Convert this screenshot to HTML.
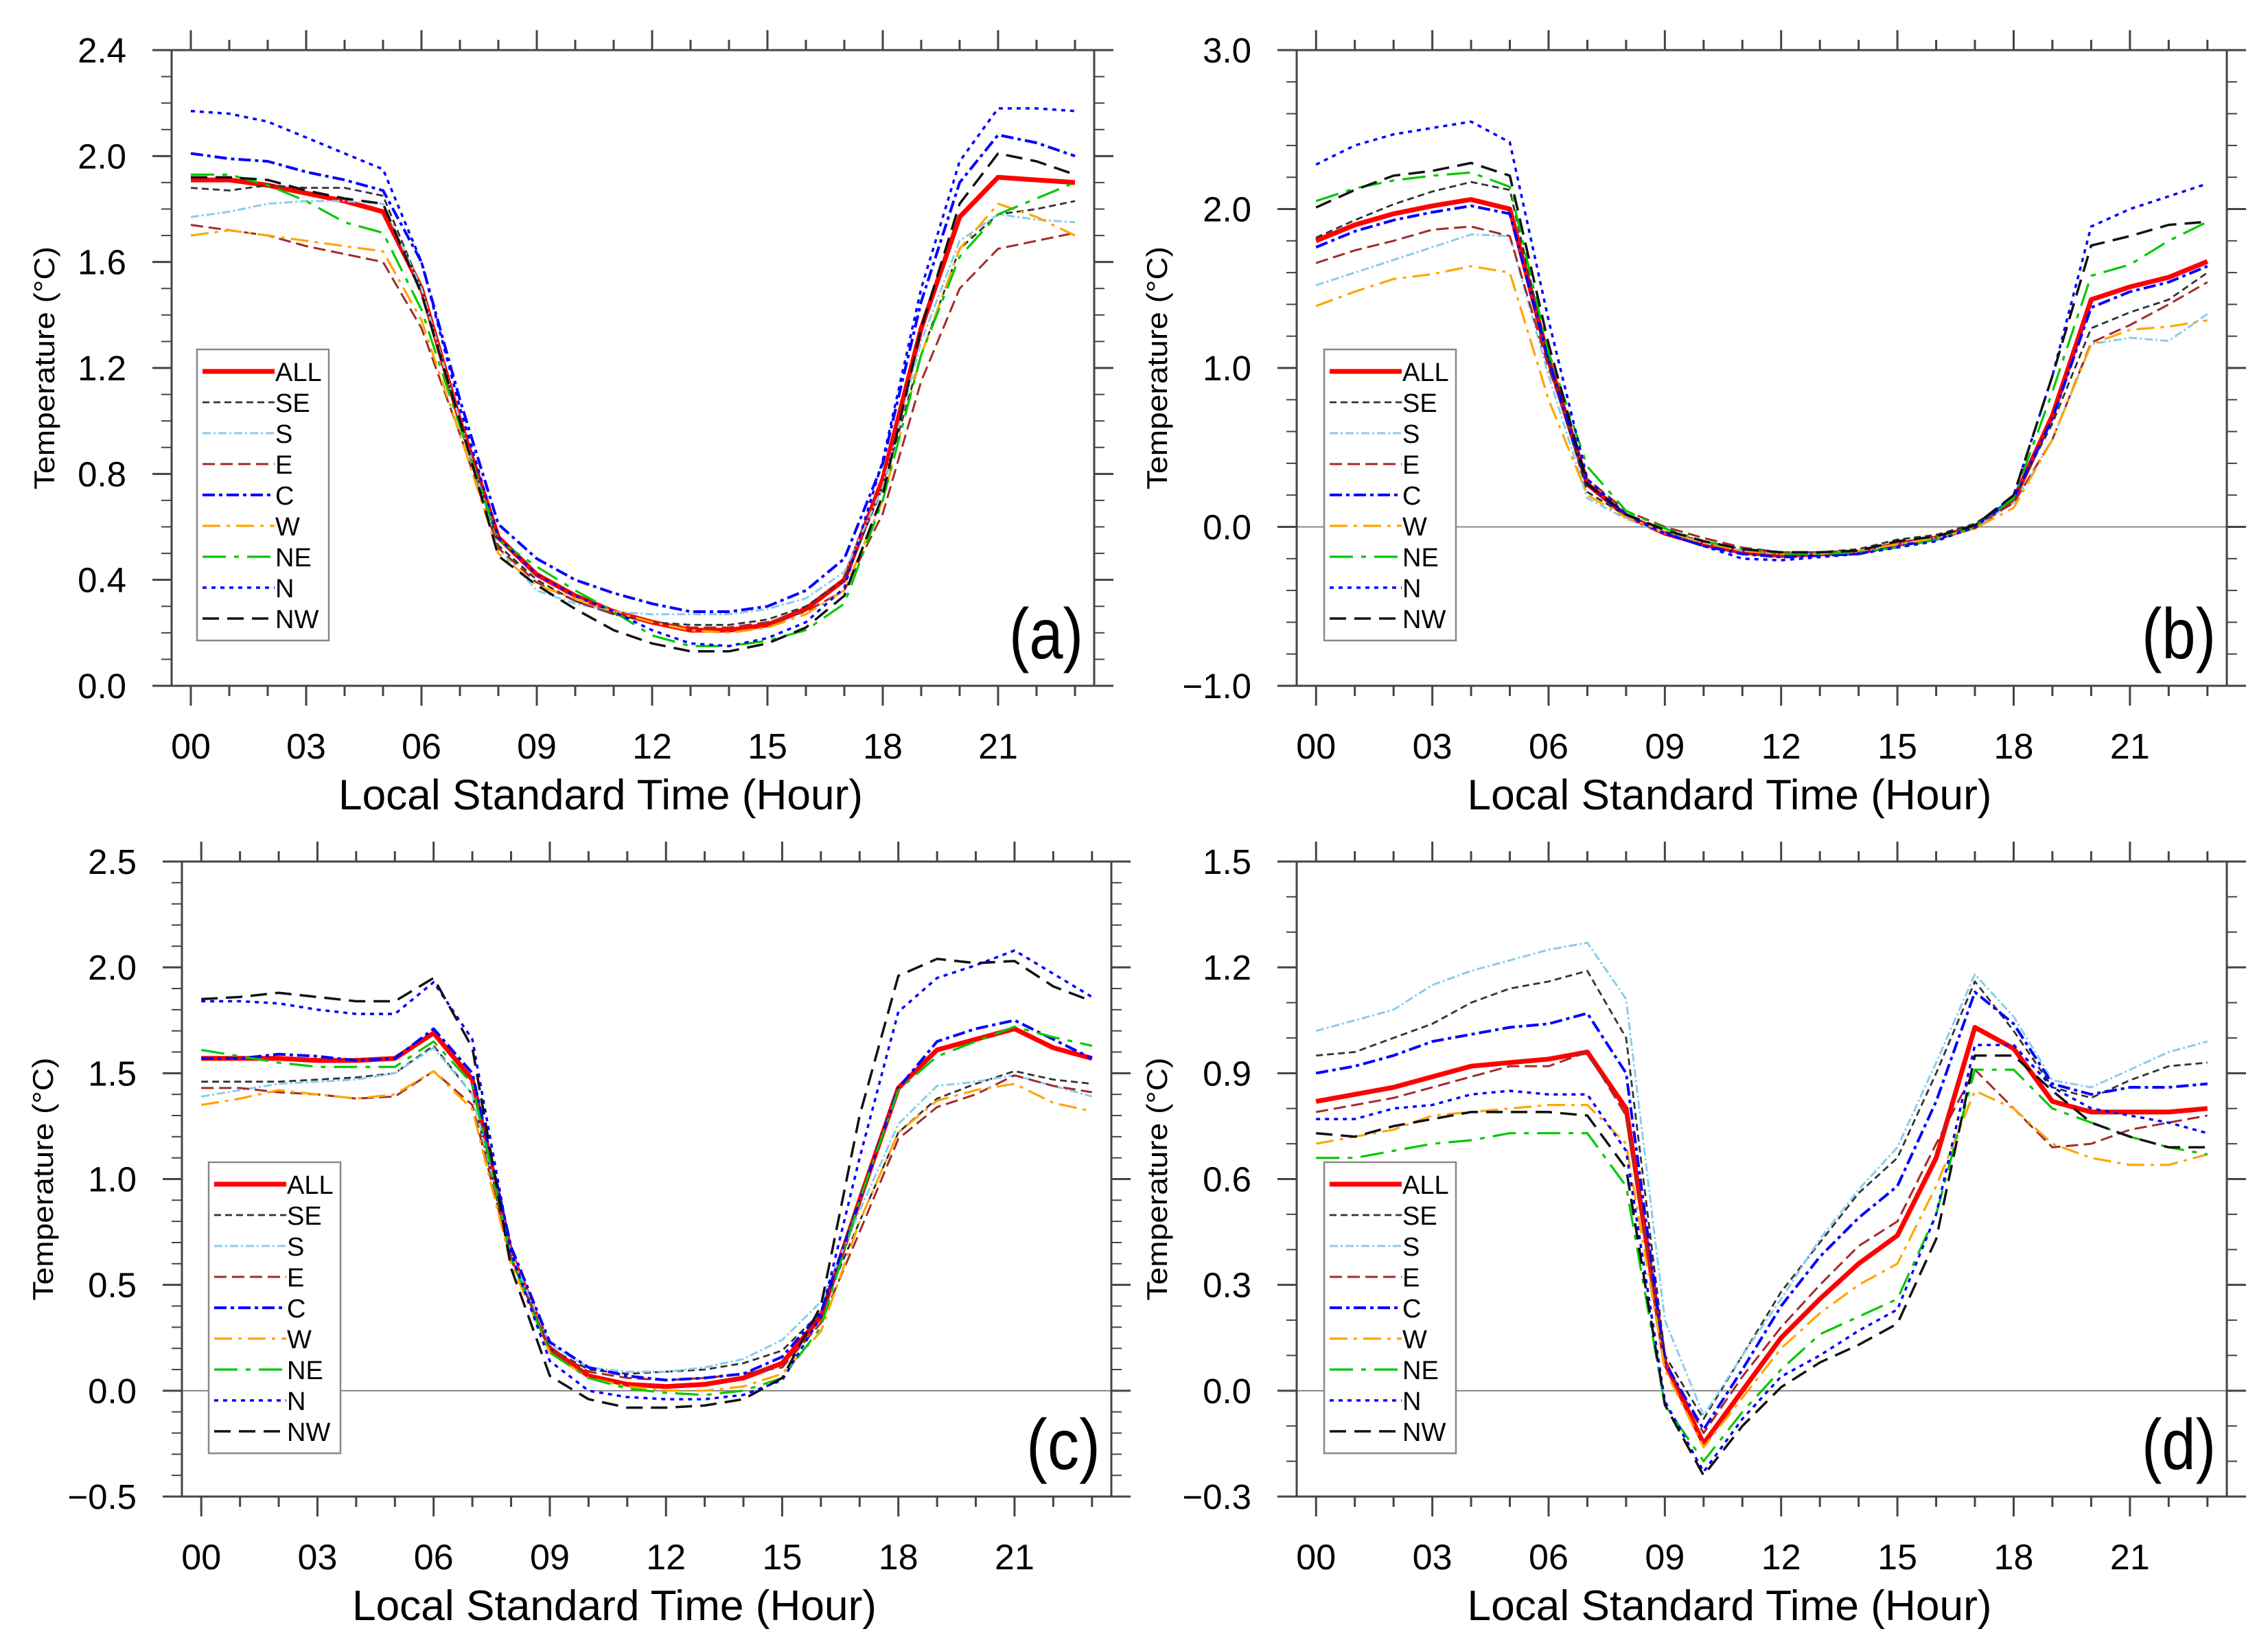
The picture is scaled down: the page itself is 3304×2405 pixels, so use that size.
<!DOCTYPE html>
<html><head><meta charset="utf-8"><style>
html,body{margin:0;padding:0;background:#fff;}
svg{display:block;font-family:"Liberation Sans",sans-serif;}
</style></head><body>
<svg id="fig" width="3304" height="2405" viewBox="0 0 3304 2405" xmlns="http://www.w3.org/2000/svg"></svg>
<script>
const hours=[0,1,2,3,4,5,6,7,8,9,10,11,12,13,14,15,16,17,18,19,20,21,22,23];
const seriesNames=["ALL","SE","S","E","C","W","NE","N","NW"];
const xTickLabels=["00","03","06","09","12","15","18","21"];
// Panel (a)
const aALL=[1.91,1.91,1.89,1.86,1.83,1.79,1.50,1.00,0.56,0.42,0.34,0.28,0.24,0.21,0.21,0.23,0.29,0.40,0.78,1.35,1.77,1.92,1.91,1.90];
const aSE=[1.88,1.87,1.89,1.88,1.88,1.85,1.50,1.00,0.53,0.40,0.32,0.27,0.24,0.23,0.23,0.25,0.30,0.40,0.75,1.25,1.65,1.78,1.80,1.83];
const aS=[1.77,1.79,1.82,1.83,1.83,1.82,1.50,1.00,0.52,0.36,0.31,0.28,0.27,0.27,0.27,0.29,0.33,0.43,0.75,1.30,1.68,1.78,1.76,1.75];
const aE=[1.74,1.72,1.70,1.66,1.63,1.60,1.35,0.95,0.52,0.39,0.32,0.27,0.24,0.22,0.22,0.24,0.28,0.36,0.65,1.15,1.50,1.65,1.68,1.71];
const aC=[2.01,1.99,1.98,1.94,1.91,1.87,1.60,1.08,0.61,0.48,0.40,0.35,0.31,0.28,0.28,0.30,0.36,0.48,0.84,1.45,1.90,2.08,2.05,2.00];
const aW=[1.70,1.72,1.70,1.68,1.66,1.64,1.38,0.95,0.50,0.38,0.33,0.28,0.24,0.21,0.20,0.22,0.27,0.36,0.70,1.25,1.65,1.82,1.77,1.70];
const aNE=[1.93,1.93,1.89,1.83,1.75,1.71,1.42,0.98,0.55,0.45,0.36,0.28,0.19,0.15,0.15,0.17,0.21,0.31,0.70,1.25,1.62,1.78,1.84,1.90];
const aN=[2.17,2.16,2.13,2.07,2.01,1.95,1.60,1.05,0.56,0.42,0.34,0.28,0.21,0.16,0.15,0.18,0.24,0.37,0.85,1.50,1.98,2.18,2.18,2.17];
const aNW=[1.92,1.92,1.91,1.87,1.84,1.82,1.48,1.00,0.49,0.38,0.29,0.21,0.16,0.13,0.13,0.16,0.22,0.34,0.72,1.35,1.82,2.01,1.98,1.93];
const aYTicks=["0.0","0.4","0.8","1.2","1.6","2.0","2.4"];
// Panel (b)
const bALL=[1.80,1.90,1.97,2.02,2.06,2.00,1.05,0.27,0.07,-0.04,-0.11,-0.16,-0.18,-0.17,-0.16,-0.11,-0.07,0.00,0.17,0.70,1.43,1.51,1.57,1.67];
const bSE=[1.82,1.93,2.03,2.11,2.17,2.12,1.05,0.22,0.07,-0.03,-0.09,-0.14,-0.16,-0.16,-0.14,-0.08,-0.05,0.02,0.18,0.65,1.25,1.35,1.43,1.60];
const bS=[1.52,1.60,1.68,1.76,1.84,1.83,0.95,0.18,0.05,-0.04,-0.10,-0.15,-0.17,-0.17,-0.16,-0.11,-0.07,0.00,0.15,0.55,1.15,1.19,1.17,1.34];
const bE=[1.66,1.74,1.80,1.87,1.89,1.83,1.00,0.30,0.10,0.00,-0.07,-0.13,-0.16,-0.16,-0.15,-0.10,-0.06,0.01,0.15,0.55,1.16,1.27,1.40,1.54];
const bC=[1.76,1.86,1.93,1.98,2.02,1.97,1.05,0.27,0.07,-0.04,-0.12,-0.17,-0.19,-0.18,-0.17,-0.12,-0.08,0.00,0.18,0.68,1.38,1.48,1.54,1.64];
const bW=[1.39,1.48,1.56,1.59,1.64,1.60,0.80,0.20,0.06,-0.03,-0.10,-0.15,-0.17,-0.17,-0.15,-0.11,-0.07,-0.01,0.12,0.55,1.15,1.24,1.26,1.30];
const bNE=[2.05,2.13,2.18,2.21,2.23,2.14,1.10,0.38,0.10,-0.01,-0.09,-0.14,-0.17,-0.17,-0.16,-0.13,-0.08,0.00,0.18,0.85,1.58,1.65,1.80,1.92];
const bN=[2.28,2.40,2.47,2.51,2.55,2.42,1.30,0.30,0.08,-0.04,-0.12,-0.20,-0.21,-0.19,-0.17,-0.13,-0.09,0.00,0.20,0.95,1.89,2.00,2.08,2.16];
const bNW=[2.01,2.12,2.21,2.24,2.29,2.21,1.15,0.27,0.08,-0.02,-0.09,-0.14,-0.16,-0.16,-0.15,-0.09,-0.06,0.01,0.20,0.95,1.77,1.83,1.90,1.92];
const bYTicks=["\u22121.0","0.0","1.0","2.0","3.0"];
// Panel (c)
const cALL=[1.57,1.57,1.57,1.56,1.56,1.57,1.69,1.47,0.65,0.20,0.07,0.03,0.02,0.03,0.06,0.13,0.35,0.90,1.43,1.61,1.66,1.71,1.62,1.57];
const cSE=[1.46,1.46,1.46,1.47,1.48,1.50,1.63,1.40,0.62,0.20,0.10,0.08,0.09,0.10,0.13,0.19,0.37,0.80,1.22,1.38,1.45,1.51,1.47,1.45];
const cS=[1.39,1.42,1.45,1.46,1.47,1.50,1.62,1.40,0.65,0.22,0.11,0.09,0.09,0.11,0.15,0.24,0.42,0.85,1.26,1.44,1.46,1.49,1.44,1.39];
const cE=[1.43,1.43,1.41,1.40,1.38,1.39,1.51,1.35,0.62,0.20,0.09,0.06,0.05,0.06,0.08,0.11,0.32,0.75,1.19,1.34,1.40,1.49,1.44,1.41];
const cC=[1.57,1.57,1.59,1.58,1.56,1.57,1.71,1.50,0.68,0.23,0.11,0.07,0.05,0.06,0.08,0.16,0.37,0.90,1.43,1.65,1.71,1.75,1.66,1.57];
const cW=[1.35,1.38,1.42,1.40,1.38,1.40,1.51,1.33,0.60,0.18,0.06,0.02,0.00,0.00,0.02,0.08,0.28,0.80,1.22,1.37,1.42,1.45,1.36,1.32];
const cNE=[1.61,1.58,1.55,1.53,1.53,1.53,1.65,1.45,0.63,0.18,0.06,0.01,-0.01,-0.02,0.00,0.06,0.30,0.90,1.42,1.58,1.65,1.72,1.67,1.63];
const cN=[1.84,1.84,1.83,1.80,1.78,1.78,1.93,1.66,0.65,0.14,0.00,-0.03,-0.04,-0.04,-0.02,0.05,0.35,1.10,1.79,1.95,2.01,2.08,1.97,1.86];
const cNW=[1.85,1.86,1.88,1.86,1.84,1.84,1.95,1.62,0.58,0.07,-0.04,-0.08,-0.08,-0.07,-0.04,0.06,0.40,1.30,1.96,2.04,2.02,2.03,1.91,1.84];
const cYTicks=["\u22120.5","0.0","0.5","1.0","1.5","2.0","2.5"];
// Panel (d)
const dALL=[0.82,0.84,0.86,0.89,0.92,0.93,0.94,0.96,0.80,0.08,-0.15,0.00,0.15,0.26,0.36,0.44,0.66,1.03,0.97,0.82,0.79,0.79,0.79,0.80];
const dSE=[0.95,0.96,1.00,1.04,1.10,1.14,1.16,1.19,1.00,0.10,-0.08,0.10,0.28,0.42,0.56,0.66,0.90,1.16,1.02,0.86,0.83,0.88,0.92,0.93];
const dS=[1.02,1.05,1.08,1.15,1.19,1.22,1.25,1.27,1.11,0.20,-0.07,0.10,0.26,0.43,0.57,0.69,0.93,1.18,1.06,0.88,0.86,0.91,0.96,0.99];
const dE=[0.79,0.81,0.83,0.86,0.89,0.92,0.92,0.96,0.78,0.08,-0.12,0.04,0.18,0.30,0.41,0.48,0.70,0.91,0.80,0.69,0.70,0.74,0.76,0.78];
const dC=[0.90,0.92,0.95,0.99,1.01,1.03,1.04,1.07,0.90,0.08,-0.11,0.06,0.24,0.38,0.49,0.58,0.82,1.13,1.04,0.87,0.84,0.86,0.86,0.87];
const dW=[0.70,0.72,0.74,0.78,0.79,0.80,0.81,0.81,0.70,0.06,-0.16,-0.02,0.12,0.22,0.30,0.36,0.58,0.85,0.80,0.70,0.66,0.64,0.64,0.67];
const dNE=[0.66,0.66,0.68,0.70,0.71,0.73,0.73,0.73,0.58,-0.04,-0.20,-0.06,0.06,0.16,0.21,0.26,0.50,0.91,0.91,0.80,0.76,0.72,0.69,0.67];
const dN=[0.77,0.77,0.80,0.81,0.84,0.85,0.84,0.84,0.68,-0.03,-0.23,-0.08,0.04,0.10,0.17,0.23,0.50,0.98,0.98,0.86,0.80,0.78,0.76,0.73];
const dNW=[0.73,0.72,0.75,0.77,0.79,0.79,0.79,0.78,0.63,-0.04,-0.24,-0.10,0.01,0.08,0.13,0.19,0.43,0.95,0.95,0.85,0.76,0.72,0.69,0.69];
const dYTicks=["\u22120.3","0.0","0.3","0.6","0.9","1.2","1.5"];

const styles={
 ALL:{c:"#ff0000",w:7,d:""},
 SE:{c:"#333333",w:2.8,d:"10 6"},
 S:{c:"#87ceeb",w:3,d:"12 4 3 4"},
 E:{c:"#a52a2a",w:3,d:"18 8"},
 C:{c:"#0000ff",w:4,d:"18 6 5 6"},
 W:{c:"#ffa500",w:3.2,d:"26 9 5 9"},
 NE:{c:"#00c800",w:3.2,d:"34 12 7 12"},
 N:{c:"#0000ff",w:3.5,d:"6 7"},
 NW:{c:"#111111",w:3.5,d:"24 12"}
};
const panels=[
 {id:"a",L:250,R:1594,T:73,B:999,ymin:0,ymax:2.4,ystep:0.4,yminor:0.1,ticks:aYTicks,data:[aALL,aSE,aS,aE,aC,aW,aNE,aN,aNW],zero:false,leg:[287,509],ytx:64},
 {id:"b",L:1889,R:3244,T:73,B:999,ymin:-1,ymax:3,ystep:1,yminor:0.2,ticks:bYTicks,data:[bALL,bSE,bS,bE,bC,bW,bNE,bN,bNW],zero:true,leg:[1929,509],ytx:1685},
 {id:"c",L:265,R:1619,T:1255,B:2180,ymin:-0.5,ymax:2.5,ystep:0.5,yminor:0.1,ticks:cYTicks,data:[cALL,cSE,cS,cE,cC,cW,cNE,cN,cNW],zero:true,leg:[304,1693],ytx:62},
 {id:"d",L:1889,R:3244,T:1255,B:2180,ymin:-0.3,ymax:1.5,ystep:0.3,yminor:0.1,ticks:dYTicks,data:[dALL,dSE,dS,dE,dC,dW,dNE,dN,dNW],zero:true,leg:[1929,1693],ytx:1685}
];
const NS="http://www.w3.org/2000/svg";
const svg=document.getElementById("fig");
function mk(tag,attrs,parent){const e=document.createElementNS(NS,tag);for(const k in attrs)e.setAttribute(k,attrs[k]);(parent||svg).appendChild(e);return e;}

panels.forEach(p=>{
 const g=mk("g",{});
 
 
 const hw=(p.R-p.L)/24;
 const xS=h=>p.L+(h+0.5)*hw;
 const yS=v=>p.B-(v-p.ymin)/(p.ymax-p.ymin)*(p.B-p.T);
 if(p.zero){
  const z=mk("line",{x1:p.L,x2:p.R,y1:yS(0),y2:yS(0),stroke:"#888","stroke-width":2},g);
  
  
 }
 p.data.forEach((arr,i)=>{
  const st=styles[seriesNames[i]];
  const pts=hours.map((h,j)=>xS(h).toFixed(1)+","+yS(arr[j]).toFixed(1)).join(" ");
  const pl=mk("polyline",{points:pts,fill:"none",stroke:st.c,"stroke-width":st.w,"stroke-linejoin":"round"},g);
  if(st.d)pl.setAttribute("stroke-dasharray",st.d);
  
  
 });
 const fr=mk("rect",{x:p.L,y:p.T,width:p.R-p.L,height:p.B-p.T,fill:"none",stroke:"#444","stroke-width":3},g);
 
 
 mk("line",{x1:p.L-28,x2:p.R+28,y1:p.T,y2:p.T,stroke:"#444","stroke-width":3},g);
 mk("line",{x1:p.L-28,x2:p.R+28,y1:p.B,y2:p.B,stroke:"#444","stroke-width":3},g);
 for(let h=0;h<=23;h++){
  const len=(h%3===0)?29:15, x=xS(h);
  mk("line",{x1:x,x2:x,y1:p.B,y2:p.B+len,stroke:"#444","stroke-width":3},g);
  mk("line",{x1:x,x2:x,y1:p.T,y2:p.T-len,stroke:"#444","stroke-width":3},g);
 }
 xTickLabels.forEach((lab,k)=>{
  const t=mk("text",{x:xS(k*3),y:p.B+106,"font-size":52,"text-anchor":"middle",fill:"#000"},g);
  t.textContent=lab;
  
  
 });
 const nMinor=Math.round((p.ymax-p.ymin)/p.yminor);
 const ratio=Math.round(p.ystep/p.yminor);
 for(let k=0;k<=nMinor;k++){
  const v=p.ymin+k*p.yminor, y=yS(v), len=(k%ratio===0)?28:15;
  mk("line",{x1:p.L,x2:p.L-len,y1:y,y2:y,stroke:"#444","stroke-width":(k%ratio===0)?3:2},g);
  mk("line",{x1:p.R,x2:p.R+len,y1:y,y2:y,stroke:"#444","stroke-width":(k%ratio===0)?3:2},g);
 }
 p.ticks.forEach((lab,k)=>{
  const y=yS(p.ymin+k*p.ystep);
  const t=mk("text",{x:p.L-66,y:y+18,"font-size":51,"text-anchor":"end",fill:"#000"},g);
  t.textContent=lab;
  
  
 });
 const xt=mk("text",{x:(p.L+p.R)/2-47,y:p.B+180,"font-size":62,"text-anchor":"middle",fill:"#000",textLength:764,lengthAdjust:"spacingAndGlyphs"},g);
 xt.textContent="Local Standard Time (Hour)";
 
 
 const cy=(p.T+p.B)/2;
 const yt=mk("text",{x:0,y:0,"font-size":42,"text-anchor":"middle",fill:"#000",transform:`translate(${p.ytx+15},${cy}) rotate(-90)`,textLength:354,lengthAdjust:"spacingAndGlyphs"},g);
 yt.textContent="Temperature (\u00B0C)";
 
 
 const pl=mk("text",{x:p.R-16,y:p.B-40,"font-size":104,"text-anchor":"end",fill:"#000",textLength:108,lengthAdjust:"spacingAndGlyphs"},g);
 pl.textContent="("+p.id+")";
 
 
 const lg=mk("g",{},g);
 
 
 const [lx,ly]=p.leg;
 mk("rect",{x:lx,y:ly,width:192,height:424,fill:"#fff",stroke:"#888","stroke-width":2.5},lg);
 seriesNames.forEach((n,i)=>{
  const st=styles[n], y=ly+32+i*45;
  const ln=mk("line",{x1:lx+8,x2:lx+113,y1:y,y2:y,stroke:st.c,"stroke-width":st.w},lg);
  if(st.d)ln.setAttribute("stroke-dasharray",st.d);
  
  
  const t=mk("text",{x:lx+114,y:y+14,"font-size":38,fill:"#000"},lg);
  t.textContent=n;
  
  
 });
});
</script>
</body></html>
